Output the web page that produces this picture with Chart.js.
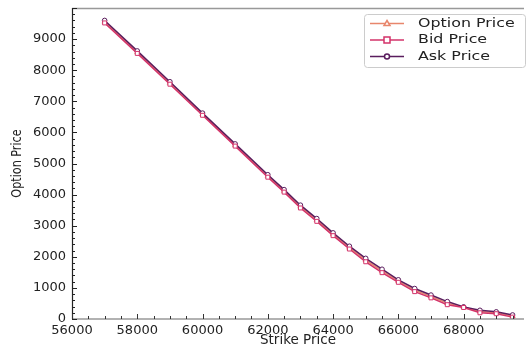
<!DOCTYPE html>
<html><head><meta charset="utf-8">
<script src="https://cdn.jsdelivr.net/npm/chart.js@4.4.1/dist/chart.umd.min.js"></script>
<style>html,body{margin:0;padding:0;background:#fff;}#wrap{width:529px;height:347px;}</style>
</head><body><div id="wrap"><canvas id="c" width="529" height="347"></canvas></div>
<script>
const strikes = [57000,58000,59000,60000,61000,62000,62500,63000,63500,64000,64500,65000,65500,66000,66500,67000,67500,68000,68500,69000,69500];
const askPrice = [9600,8620,7630,6620,5630,4640,4160,3660,3230,2770,2340,1950,1600,1260,980,770,560,390,280,230,130];
const bidPrice = [9520,8540,7550,6550,5560,4560,4080,3570,3140,2680,2250,1840,1490,1180,880,680,460,370,200,170,60];
const optionPrice = [9560,8580,7590,6585,5595,4600,4120,3615,3185,2725,2295,1895,1545,1220,930,725,510,380,240,200,95];
const seriesNames = ['Option Price','Bid Price','Ask Price'];
const yTicks = [0,1000,2000,3000,4000,5000,6000,7000,8000,9000];
const xTicks = [56000,58000,60000,62000,64000,66000,68000];
const yTitle = 'Option Price';

const colors = {opt:'#e8866c', bid:'#d3336a', ask:'#5a1d5e'};
const pts = arr => strikes.map((s,i)=>({x:s,y:arr[i]}));

const spinePlugin = {
  id:'spines',
  afterDatasetsDraw(chart){
    const {ctx, chartArea:a, scales:{x,y}} = chart;
    ctx.save();
    ctx.strokeStyle='#999'; ctx.lineWidth=1.5;
    ctx.beginPath(); ctx.moveTo(a.left, a.top+0.5); ctx.lineTo(a.right, a.top+0.5); ctx.stroke();
    ctx.beginPath(); ctx.moveTo(a.left, a.bottom); ctx.lineTo(a.right, a.bottom); ctx.stroke();
    ctx.strokeStyle='#222'; ctx.lineWidth=1.2;
    ctx.beginPath(); ctx.moveTo(a.left+0.5, a.top); ctx.lineTo(a.left+0.5, a.bottom); ctx.stroke();
    ctx.lineWidth=1;
    for(let v=0; v<=10000; v+=200){
      const py=Math.round(y.getPixelForValue(v))+0.5;
      const len = (v%1000===0)?5:3;
      ctx.beginPath(); ctx.moveTo(a.left, py); ctx.lineTo(a.left+len, py); ctx.stroke();
    }
    ctx.strokeStyle='#333';
    for(let v=56000; v<=69850; v+=500){
      const px=Math.round(x.getPixelForValue(v))+0.5;
      const len = (v%2000===0)?5:3;
      ctx.beginPath(); ctx.moveTo(px, a.bottom); ctx.lineTo(px, a.bottom-len); ctx.stroke();
    }
    ctx.restore();
  },
  afterDraw(chart){
    const {ctx, chartArea:a} = chart;
    ctx.save();
    ctx.save();
    ctx.translate(17, (a.top+a.bottom)/2);
    ctx.rotate(-Math.PI/2);
    ctx.scale(0.8,1);
    ctx.fillStyle='#222'; ctx.font='14px "DejaVu Sans"'; ctx.textAlign='center'; ctx.textBaseline='middle';
    ctx.fillText(yTitle,0,0);
    ctx.restore();
    const bx=364, by=14, bw=161, bh=53;
    ctx.beginPath();
    ctx.roundRect(bx+0.5,by+0.5,bw,bh,3);
    ctx.fillStyle='rgba(255,255,255,0.85)'; ctx.fill();
    ctx.strokeStyle='#cccccc'; ctx.lineWidth=1; ctx.stroke();
    const rows=[23.5,40,56.5];
    const cols=[colors.opt, colors.bid, colors.ask];
    const shapes=['triangle','rect','circle'];
    rows.forEach((ry,i)=>{
      ctx.strokeStyle=cols[i]; ctx.lineWidth=1.5;
      ctx.beginPath(); ctx.moveTo(370,ry); ctx.lineTo(404,ry); ctx.stroke();
      ctx.fillStyle='#fff';
      ctx.beginPath();
      if(shapes[i]==='triangle'){ ctx.moveTo(387,ry-3); ctx.lineTo(390,ry+2); ctx.lineTo(384,ry+2); ctx.closePath(); }
      else if(shapes[i]==='rect'){ ctx.rect(384,ry-3,6,6); }
      else { ctx.arc(387,ry,2.5,0,Math.PI*2); }
      ctx.fill(); ctx.stroke();
      ctx.save();
      ctx.translate(418, ry);
      ctx.scale(1.38,1);
      ctx.fillStyle='#222'; ctx.font='11.5px "DejaVu Sans"'; ctx.textBaseline='middle';
      ctx.fillText(seriesNames[i],0,0.5);
      ctx.restore();
    });
    ctx.restore();
  }
};

new Chart(document.getElementById('c'), {
  type:'line',
  data:{datasets:[
    {label:seriesNames[0], data:pts(optionPrice), borderColor:colors.opt, backgroundColor:'#fff', borderWidth:1.5, pointStyle:'triangle', pointRadius:3, pointBorderWidth:1, order:3},
    {label:seriesNames[1], data:pts(bidPrice), borderColor:colors.bid, backgroundColor:'#fff', borderWidth:1.5, pointStyle:'rect', pointRadius:2.8, pointBorderWidth:1, order:1},
    {label:seriesNames[2], data:pts(askPrice), borderColor:colors.ask, backgroundColor:'#fff', borderWidth:1.5, pointStyle:'circle', pointRadius:2.3, pointBorderWidth:1, order:2}
  ]},
  options:{
    responsive:false, animation:false,
    layout:{padding:{top:8,right:0,left:0,bottom:0}},
    plugins:{legend:{display:false}, tooltip:{enabled:false}},
    scales:{
      x:{type:'linear', min:56000, max:69850,
        afterBuildTicks:(s)=>{s.ticks = xTicks.map(v=>({value:v}));},
        grid:{display:false, drawTicks:false},
        border:{display:false},
        ticks:{padding:4, color:'#222', font:{family:'DejaVu Sans', size:13}, maxRotation:0, autoSkip:false, callback:v=>String(v)},
        title:{display:true, text:'Strike Price', color:'#222', font:{family:'DejaVu Sans', size:13.5}, padding:{top:0,bottom:-2}},
        afterFit:(s)=>{s.height=28; s.paddingLeft=0; s.paddingRight=0;}
      },
      y:{min:0, max:10000,
        afterBuildTicks:(s)=>{s.ticks = yTicks.map(v=>({value:v}));},
        grid:{display:false, drawTicks:false},
        border:{display:false},
        ticks:{padding:6, color:'#222', font:{family:'DejaVu Sans', size:13}, callback:v=>String(v)},
        title:{display:false},
        afterFit:(s)=>{s.width=72; s.paddingTop=0; s.paddingBottom=0;}
      }
    }
  },
  plugins:[spinePlugin]
});
</script></body></html>
